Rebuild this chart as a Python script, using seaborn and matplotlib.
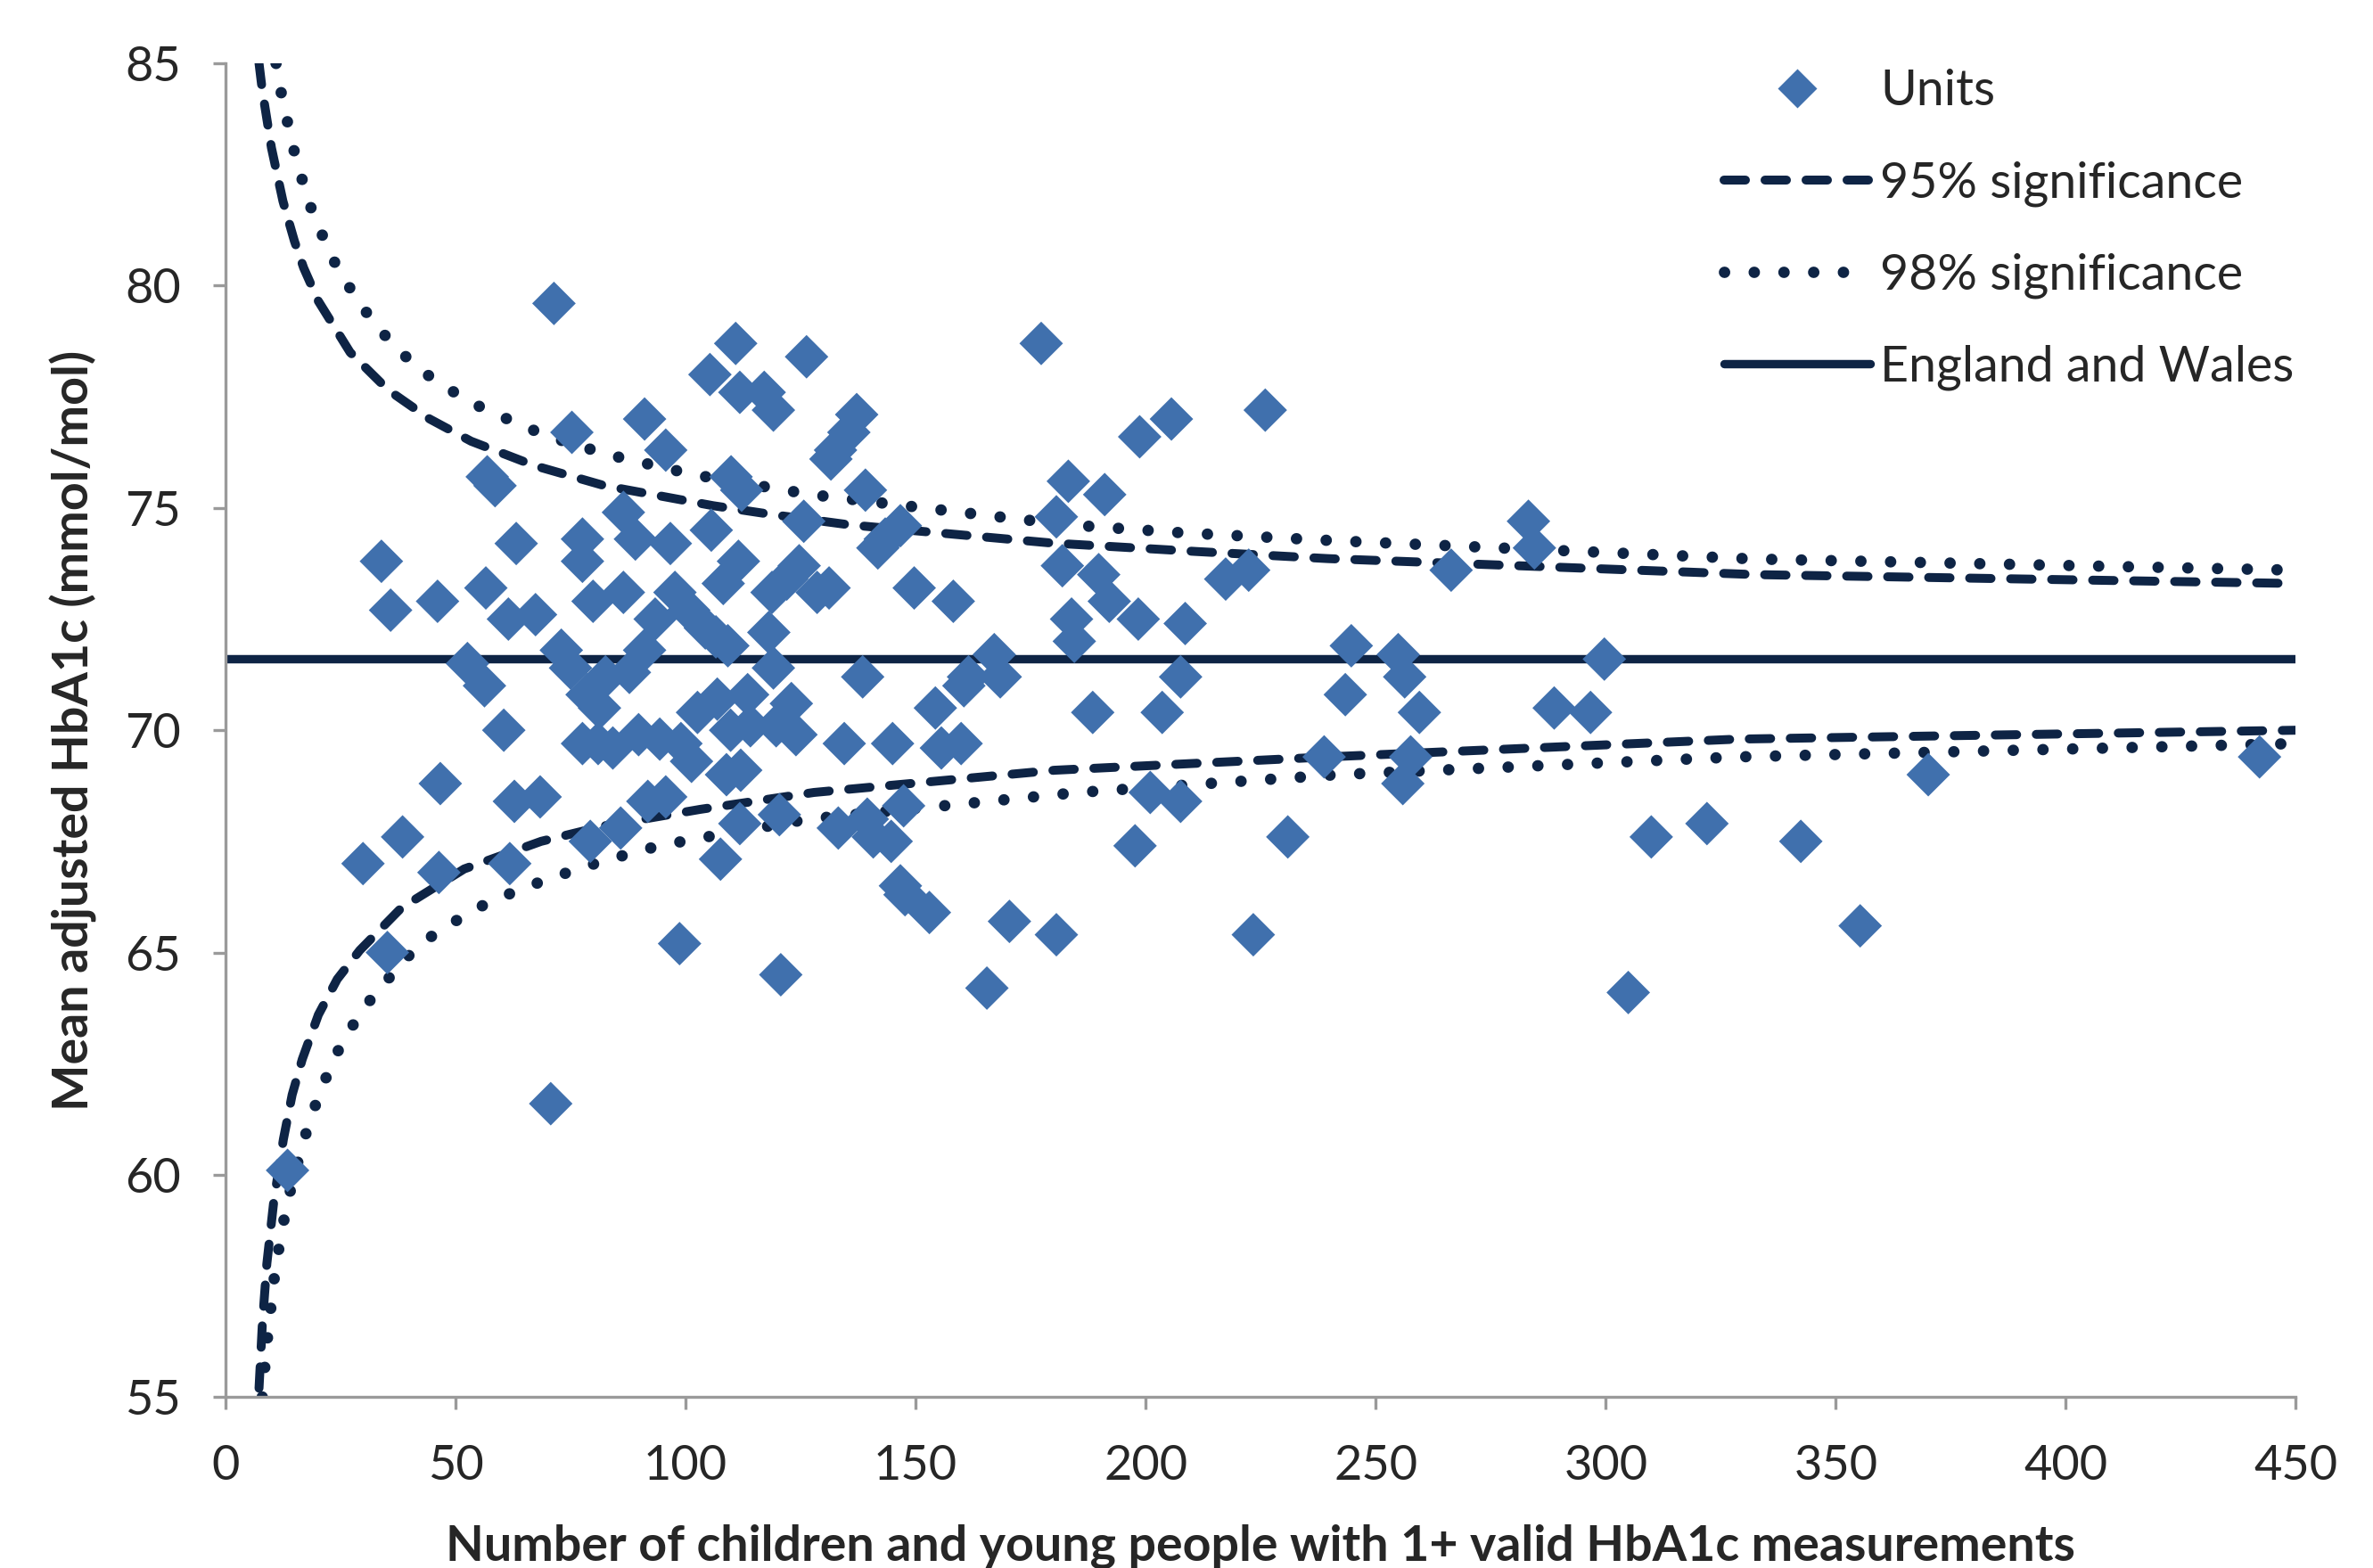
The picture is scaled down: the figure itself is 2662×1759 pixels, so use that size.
"""
Funnel plot: mean adjusted HbA1c by unit size, with 95% / 98% limits.
"""

import matplotlib
matplotlib.use("Agg")
import matplotlib.pyplot as plt
from matplotlib.lines import Line2D
import pandas as pd
import seaborn as sns

# ---------------------------------------------------------------------------
# Data
# ---------------------------------------------------------------------------
unit_n = [
    13.5, 29.9, 35.2, 33.9, 35.9, 38.5, 46.1, 46.7, 46.4, 52.6, 56.3, 56.9, 58.6, 56.6,
    60.5, 61.8, 63.2, 61.5, 62.8, 67.4, 68.4, 71.4, 70.7, 73.0, 75.3, 75.0, 77.6, 77.6,
    78.6, 77.6, 79.3, 79.9, 81.3, 81.0, 82.6, 84.2, 85.9, 86.5, 86.5, 87.8, 89.1, 91.1,
    91.1, 91.8, 93.4, 94.4, 95.7, 96.7, 97.7, 98.7, 95.7, 99.0, 100.7, 101.3, 102.6,
    104.3, 105.3, 105.6, 106.6, 106.9, 107.6, 108.2, 108.9, 109.2, 109.9, 110.9, 111.5,
    112.2, 111.8, 111.8, 113.5, 114.1, 117.1, 119.1, 118.1, 118.8, 119.1, 119.7, 120.4,
    120.7, 122.0, 123.0, 124.0, 124.7, 125.7, 126.3, 128.6, 131.2, 131.6, 132.6, 133.2,
    134.5, 135.5, 137.2, 139.1, 138.5, 139.5, 141.8, 143.4, 144.7, 145.0, 146.7, 146.7,
    147.4, 147.7, 149.7, 153.0, 154.3, 155.6, 158.2, 159.9, 160.5, 161.5, 165.5, 167.1,
    168.4, 170.4, 177.3, 180.6, 180.6, 181.9, 183.2, 183.9, 184.5, 188.5, 189.8, 191.1,
    192.1, 197.7, 198.4, 198.7, 201.0, 203.6, 205.6, 207.6, 208.6, 207.6, 217.4, 222.4,
    223.4, 226.0, 230.9, 238.8, 243.4, 244.7, 254.9, 256.3, 255.9, 257.6, 259.5, 266.4,
    283.2, 284.5, 288.8, 296.7, 299.7, 304.9, 309.9, 322.0, 342.4, 355.3, 370.1, 442.1,
    89.8, 109.8, 112.0, 140.8,
]
unit_hba1c = [
    60.1, 67.0, 65.0, 73.8, 72.7, 67.6, 72.9, 68.8, 66.8, 71.5, 71.0, 75.7, 75.5, 73.2,
    70.0, 67.0, 74.2, 72.5, 68.4, 72.6, 68.5, 79.6, 61.6, 71.8, 76.7, 71.4, 74.3, 73.8,
    70.8, 69.7, 67.5, 72.9, 70.5, 69.7, 71.2, 69.6, 67.8, 74.9, 73.1, 71.3, 74.3, 77.0,
    71.8, 68.4, 72.5, 69.8, 76.3, 74.2, 73.1, 65.2, 68.5, 69.7, 72.7, 69.3, 70.4,
    72.3, 78.0, 74.5, 72.1, 70.7, 67.1, 73.3, 69.0, 71.9, 75.7, 78.7, 73.8,
    75.4, 77.6, 67.9, 70.8, 70.1, 77.6, 77.2, 72.2, 73.1, 71.4, 70.1, 68.1,
    64.5, 73.4, 70.6, 69.9, 73.7, 74.7, 78.4, 73.1, 73.2, 76.1, 76.3, 67.8,
    69.7, 76.7, 77.1, 75.4, 71.2, 68.0, 74.1, 74.3, 67.5, 69.7, 74.6, 66.5,
    68.3, 66.3, 73.2, 65.9, 70.5, 69.6, 72.9, 69.7, 71.0, 71.2, 64.2, 71.7,
    71.2, 65.7, 78.7, 65.4, 74.8, 73.7, 75.6, 72.5, 72.0, 70.4, 73.5, 75.3,
    72.9, 67.4, 72.5, 76.6, 68.6, 70.4, 77.0, 71.2, 72.4, 68.4, 73.4, 73.6,
    65.4, 77.2, 67.6, 69.4, 70.8, 71.9, 71.7, 71.2, 68.8, 69.4, 70.4, 73.6,
    74.7, 74.1, 70.5, 70.4, 71.6, 64.1, 67.6, 67.9, 67.5, 65.6, 69.0, 69.4,
    69.9, 70.0, 69.1, 67.6,
]

ew_mean = 71.6  # England and Wales

upper95_n = [7.3, 8, 10, 12.5, 15, 17, 20.2, 27.1, 35.4, 44.4, 53.4, 67.2, 82.4, 106,
             118.9, 135.6, 179.6, 211, 239.6, 332.6, 450]
upper95_v = [85.0, 84.4, 83.1, 81.9, 81.0, 80.4, 79.65, 78.5, 77.65, 77.0, 76.5, 75.95,
             75.5, 75.05, 74.85, 74.62, 74.21, 74.02, 73.86, 73.5, 73.3]

lower95_n = [7.3, 8, 9, 10.5, 12.6, 14.5, 16.7, 20.2, 24.3, 29.2, 38.2, 51.9, 68.6,
             82.4, 103.2, 127.9, 180.2, 239.6, 328.7, 450]
lower95_v = [55.2, 56.6, 58.0, 59.4, 60.8, 61.8, 62.6, 63.6, 64.4, 65.05, 66.0, 66.88,
             67.5, 67.85, 68.22, 68.6, 69.1, 69.4, 69.8, 70.0]

upper98_n = [11, 12, 13, 15, 18, 22.6, 25.4, 32.6, 41.6, 52.7, 64.5, 70.5, 83.1, 101.7,
             127.3, 173, 186, 208, 241.6, 332.6, 450]
upper98_v = [85.0, 84.4, 83.9, 83.0, 81.9, 80.75, 80.2, 79.1, 78.15, 77.4, 76.85, 76.6,
             76.2, 75.75, 75.3, 74.74, 74.6, 74.44, 74.26, 73.85, 73.6]

lower98_n = [8, 9, 10.5, 12, 13.5, 15.5, 17.7, 19.5, 22.3, 25, 28.5, 32.3, 40.9, 46.5,
             57.5, 70, 81.8, 94.2, 107.3, 126.7, 185.4, 241.6, 328.7, 450]
lower98_v = [55.0, 56.2, 57.6, 58.6, 59.4, 60.2, 61.0, 61.55, 62.3, 62.9, 63.5, 64.05,
             65.05, 65.5, 66.15, 66.65, 67.05, 67.4, 67.65, 68.0, 68.6, 69.0, 69.4, 69.7]

x_ticks = [0, 50, 100, 150, 200, 250, 300, 350, 400, 450]
y_ticks = [55, 60, 65, 70, 75, 80, 85]

# ---------------------------------------------------------------------------
# Style
# ---------------------------------------------------------------------------
DIAMOND = "#4070AD"
NAVY = "#0E2445"
AXIS_GREY = "#9A9A9A"
TEXT = "#262626"

DASH_LW = 3.6
DOT_LW = 4.6
SOLID_LW = 3.4
DASH = (0, (2.4, 2.2))
DOT = (0, (0.01, 2.6))

sns.set_theme(style="white")
plt.rcParams["font.family"] = ["Lato", "DejaVu Sans"]

fig = plt.figure(figsize=(13.31, 8.795), dpi=200)
ax = fig.add_axes([0.095, 0.109, 0.8725, 0.8506])

units = pd.DataFrame({"n": unit_n, "hba1c": unit_hba1c})


def draw_limit(n_vals, v_vals, ls, lw):
    df = pd.DataFrame({"n": n_vals, "v": v_vals})
    sns.lineplot(data=df, x="n", y="v", ax=ax, color=NAVY, linewidth=lw,
                 linestyle=ls, dash_capstyle="round", solid_capstyle="round",
                 estimator=None, sort=True, zorder=2)


draw_limit(upper95_n, upper95_v, DASH, DASH_LW)
draw_limit(lower95_n, lower95_v, DASH, DASH_LW)
draw_limit(upper98_n, upper98_v, DOT, DOT_LW)
draw_limit(lower98_n, lower98_v, DOT, DOT_LW)

ax.axhline(ew_mean, color=NAVY, linewidth=SOLID_LW, zorder=2)

sns.scatterplot(data=units, x="n", y="hba1c", ax=ax, marker="D", s=155,
                color=DIAMOND, edgecolor="none", linewidth=0, zorder=3)

# ---------------------------------------------------------------------------
# Axes
# ---------------------------------------------------------------------------
ax.set_xlim(0, 450)
ax.set_ylim(55, 85)
ax.set_xticks(x_ticks)
ax.set_yticks(y_ticks)
ax.tick_params(axis="both", which="major", labelsize=19.5, colors=TEXT,
               length=5, width=1.2, color=AXIS_GREY, direction="out")
ax.tick_params(axis="x", pad=14)
ax.tick_params(axis="y", pad=13)
ax.tick_params(bottom=True, left=True)

for side in ["top", "right"]:
    ax.spines[side].set_visible(False)
for side in ["left", "bottom"]:
    ax.spines[side].set_color(AXIS_GREY)
    ax.spines[side].set_linewidth(1.2)

ax.set_xlabel("Number of children and young people with 1+ valid HbA1c measurements",
              fontsize=20, fontweight="bold", color=TEXT)
ax.set_ylabel("Mean adjusted HbA1c (mmol/mol)",
              fontsize=20, fontweight="bold", color=TEXT)
ax.xaxis.label.set_va("center")
ax.yaxis.label.set_va("center")
ax.xaxis.set_label_coords(0.5, -0.112)
ax.yaxis.set_label_coords(-0.0735, 0.5)

# ---------------------------------------------------------------------------
# Legend
# ---------------------------------------------------------------------------
handles = [
    Line2D([], [], linestyle="none", marker="D", markersize=11,
           markerfacecolor=DIAMOND, markeredgecolor="none"),
    Line2D([], [], color=NAVY, linewidth=DASH_LW, linestyle=DASH, dash_capstyle="round"),
    Line2D([], [], color=NAVY, linewidth=DOT_LW, linestyle=DOT, dash_capstyle="round"),
    Line2D([], [], color=NAVY, linewidth=SOLID_LW, solid_capstyle="round"),
]
labels = ["Units", "95% significance", "98% significance", "England and Wales"]
leg = ax.legend(handles, labels, loc="upper left", bbox_to_anchor=(0.7265, 0.956),
                bbox_transform=fig.transFigure, frameon=False, fontsize=20,
                handlelength=2.95, handletextpad=0.2, labelspacing=0.93,
                borderpad=0, borderaxespad=0)
for t in leg.get_texts():
    t.set_color(TEXT)

fig.savefig("out.png", dpi=200)
plt.close(fig)
